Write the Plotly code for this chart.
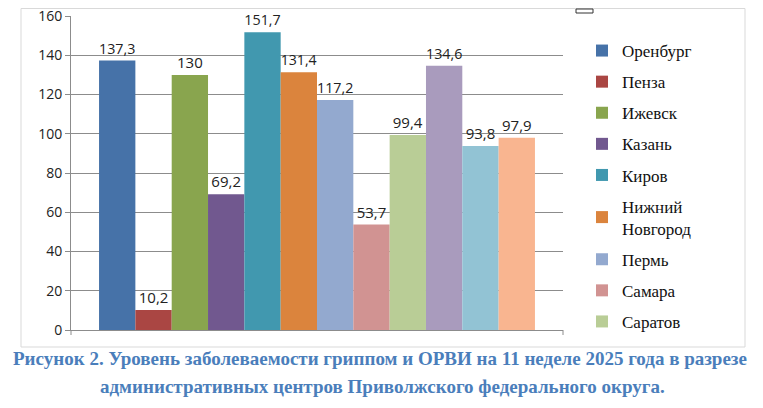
import plotly.graph_objects as go

cities = ["Оренбург", "Пенза", "Ижевск", "Казань", "Киров", "Нижний<br>Новгород",
          "Пермь", "Самара", "Саратов", "Ульяновск", "Уфа", "Чебоксары"]
values = [137.3, 10.2, 130, 69.2, 151.7, 131.4, 117.2, 53.7, 99.4, 134.6, 93.8, 97.9]
labels = ["137,3", "10,2", "130", "69,2", "151,7", "131,4", "117,2", "53,7", "99,4", "134,6", "93,8", "97,9"]
colors = ["#4672A8", "#AA4643", "#89A54E", "#71588F", "#4198AF", "#DB843D",
          "#93A9CF", "#D19392", "#B9CD96", "#A99BBD", "#92C3D4", "#F9B590"]
in_legend = [True] * 9 + [False] * 3

caption1 = "Рисунок 2. Уровень заболеваемости гриппом и ОРВИ на 11 неделе 2025 года в разрезе"
caption2 = "административных центров Приволжского федерального округа."

fig = go.Figure()
for i, (c, v, t, col, sl) in enumerate(zip(cities, values, labels, colors, in_legend)):
    fig.add_trace(go.Bar(
        x=[""], y=[v], name=c, text=[t], textposition="outside",
        textfont=dict(family="Open Sans, Liberation Sans, sans-serif", size=15, color="#222222"),
        marker=dict(color=col, line=dict(width=0)),
        showlegend=sl, legendgroup=f"g{i}", cliponaxis=False,
    ))

# page body has an 8px margin, so the figure is 8px smaller and shifted
fig.update_layout(
    width=755, height=400,
    margin=dict(l=63, r=200, t=8, b=78, autoexpand=False),
    paper_bgcolor="white", plot_bgcolor="white",
    barmode="group", bargap=0.114, bargroupgap=0,
    showlegend=True,
    legend=dict(x=(582-71)/492, y=(330-33)/314, xanchor="left", yanchor="top",
                font=dict(family="Liberation Serif, serif", size=17, color="#111111"),
                tracegroupgap=6, itemwidth=30, bgcolor="rgba(0,0,0,0)", maxheight=400),
    xaxis=dict(showticklabels=False, showline=True, linecolor="#8c8c8c", linewidth=1,
               showgrid=False, zeroline=False, ticks=""),
    yaxis=dict(range=[0, 160], dtick=20, showline=True, linecolor="#8c8c8c", linewidth=1,
               showgrid=True, gridcolor="#8c8c8c", gridwidth=1, zeroline=False,
               ticks="outside", ticklen=5, tickcolor="#8c8c8c", ticklabeloverflow="allow",
               tickfont=dict(family="Open Sans, Liberation Sans, sans-serif", size=14, color="#222222")),
    font=dict(family="Open Sans, sans-serif"),
)

fig.add_shape(type="rect", xref="paper", yref="paper",
              x0=-50/492, x1=(745-71)/492, y0=-17/314, y1=(330-8.5)/314,
              line=dict(color="#d9d9d9", width=1), fillcolor="rgba(0,0,0,0)", layer="below")
fig.add_shape(type="rect", xref="paper", yref="paper",
              x0=(576-71)/492, x1=(593-71)/492, y0=(330-13)/314, y1=(330-9)/314,
              line=dict(color="#333333", width=1), fillcolor="white")
for xp in (0, 1):
    fig.add_shape(type="line", xref="paper", yref="paper",
                  x0=xp, x1=xp, y0=0, y1=-5/314, line=dict(color="#8c8c8c", width=1))

capfont = dict(family="Liberation Serif, serif", size=19, color="#4A7EBB")
fig.add_annotation(text="<b>" + caption1 + "</b>", xref="paper", yref="paper",
                   x=(380-71)/492, y=-(358-330)/314, xanchor="center", yanchor="middle",
                   showarrow=False, font=capfont)
fig.add_annotation(text="<b>" + caption2 + "</b>", xref="paper", yref="paper",
                   x=(382-71)/492, y=-(386-330)/314, xanchor="center", yanchor="middle",
                   showarrow=False, font=capfont)

fig.write_html("out.html")
